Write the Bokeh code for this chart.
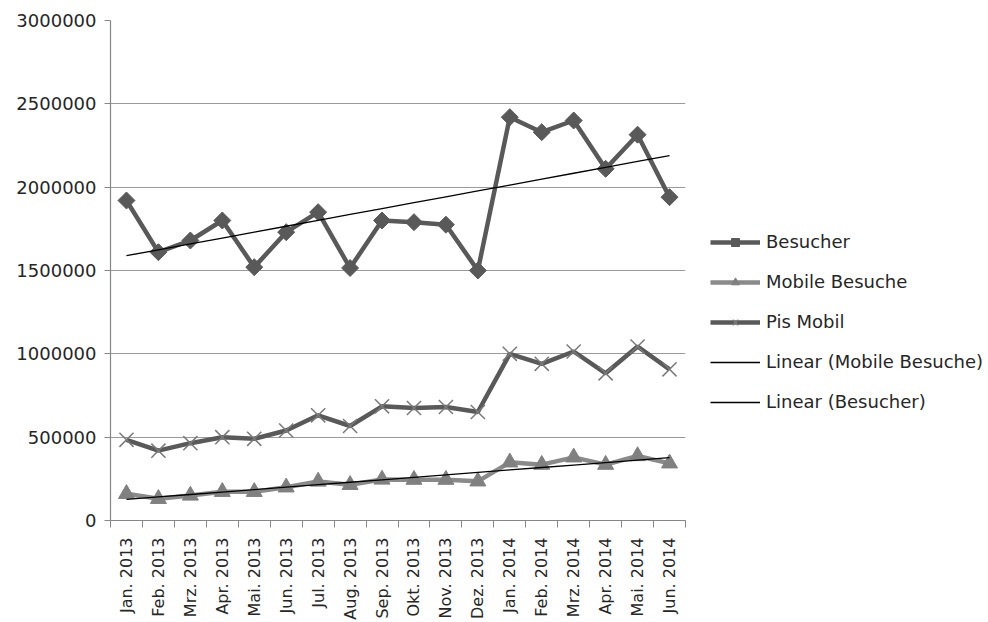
import math
import numpy as np
from bokeh.plotting import figure
from bokeh.models import (Range1d, FixedTicker, NumeralTickFormatter, Legend, LegendItem,
                          ColumnDataSource)
from bokeh.embed import file_html
from bokeh.resources import INLINE

months = ["Jan. 2013", "Feb. 2013", "Mrz. 2013", "Apr. 2013", "Mai. 2013", "Jun. 2013",
          "Jul. 2013", "Aug. 2013", "Sep. 2013", "Okt. 2013", "Nov. 2013", "Dez. 2013",
          "Jan. 2014", "Feb. 2014", "Mrz. 2014", "Apr. 2014", "Mai. 2014", "Jun. 2014"]
besucher = [1920000, 1610000, 1680000, 1800000, 1520000, 1730000, 1850000, 1515000, 1800000,
            1790000, 1775000, 1500000, 2420000, 2330000, 2400000, 2110000, 2315000, 1940000]
mobile_besuche = [160000, 130000, 150000, 172000, 172000, 199000, 234000, 214000, 246000,
                  245000, 245000, 235000, 349000, 335000, 379000, 335000, 387000, 343000]
pis_mobil = [484000, 419000, 464000, 500000, 490000, 540000, 631000, 567000, 685000,
             675000, 681000, 651000, 1000000, 940000, 1014000, 883000, 1044000, 907000]
y_ticks = [0, 500000, 1000000, 1500000, 2000000, 2500000, 3000000]

n = len(months)
xs = [i + 0.5 for i in range(n)]
idx = np.arange(n)
tb = np.polyval(np.polyfit(idx, besucher, 1), idx)
tm = np.polyval(np.polyfit(idx, mobile_besuche, 1), idx)

src = ColumnDataSource(dict(x=xs, b=besucher, m=mobile_besuche, p=pis_mobil, tb=tb, tm=tm))

FONT = "DejaVu Sans"
TXT = "#262626"
AX = "#868686"

p = figure(frame_width=575, frame_height=500, output_backend="svg", toolbar_location=None,
           x_range=Range1d(0, n), y_range=Range1d(0, 3000000),
           min_border_left=110, min_border_top=20, min_border_bottom=100, min_border_right=0,
           background_fill_color="white", border_fill_color="white")
p.outline_line_color = None
p.xgrid.visible = False
p.ygrid.grid_line_color = "#9a9a9a"
p.ygrid.grid_line_width = 1.2
p.ygrid.ticker = FixedTicker(ticks=y_ticks)

p.yaxis.ticker = FixedTicker(ticks=y_ticks)
p.yaxis.formatter = NumeralTickFormatter(format="0")
p.yaxis.axis_line_color = AX
p.yaxis.axis_line_width = 1.2
p.yaxis.major_tick_line_color = AX
p.yaxis.major_tick_out = 6
p.yaxis.major_tick_in = 0
p.yaxis.minor_tick_line_color = None
p.yaxis.major_label_text_font = FONT
p.yaxis.major_label_text_font_size = "18px"
p.yaxis.major_label_text_color = TXT
p.yaxis.major_label_standoff = 8

p.xaxis.ticker = FixedTicker(ticks=xs, minor_ticks=list(range(n + 1)))
p.xaxis.major_label_overrides = {x: lab for x, lab in zip(xs, months)}
p.xaxis.major_label_orientation = math.pi / 2
p.xaxis.axis_line_color = AX
p.xaxis.axis_line_width = 1.2
p.xaxis.major_tick_line_color = None
p.xaxis.minor_tick_line_color = AX
p.xaxis.minor_tick_out = 7
p.xaxis.minor_tick_in = 0
p.xaxis.major_label_text_font = FONT
p.xaxis.major_label_text_font_size = "16px"
p.xaxis.major_label_text_color = TXT
p.xaxis.major_label_standoff = 10

# Series
lb = p.line("x", "b", source=src, line_color="#595959", line_width=4.5)
mb = p.scatter("x", "b", source=src, marker="square", angle=math.pi / 4, size=12,
               fill_color="#595959", line_color="#595959")
lm = p.line("x", "m", source=src, line_color="#8a8a8a", line_width=4.5)
mm = p.scatter("x", "m", source=src, marker="triangle", size=16,
               fill_color="#808080", line_color="#808080")
lp = p.line("x", "p", source=src, line_color="#595959", line_width=4.5)
mp = p.scatter("x", "p", source=src, marker="x", size=20,
               line_color="#7a7a7a", line_width=1.5)
ltm = p.line("x", "tm", source=src, line_color="black", line_width=1.3)
ltb = p.line("x", "tb", source=src, line_color="black", line_width=1.3)

legend = Legend(items=[
    LegendItem(label="Besucher", renderers=[lb, mb]),
    LegendItem(label="Mobile Besuche", renderers=[lm, mm]),
    LegendItem(label="Pis Mobil", renderers=[lp, mp]),
    LegendItem(label="Linear (Mobile Besuche)", renderers=[ltm]),
    LegendItem(label="Linear (Besucher)", renderers=[ltb]),
], location=(25, 108))
legend.label_text_font = FONT
legend.label_text_font_size = "18px"
legend.label_text_color = TXT
legend.glyph_width = 50
legend.glyph_height = 20
legend.label_height = 20
legend.spacing = 19
legend.label_standoff = 6
legend.padding = 0
legend.margin = 0
legend.border_line_color = None
legend.background_fill_alpha = 0
p.add_layout(legend, "right")

open("out.html", "w").write(file_html(p, INLINE))
